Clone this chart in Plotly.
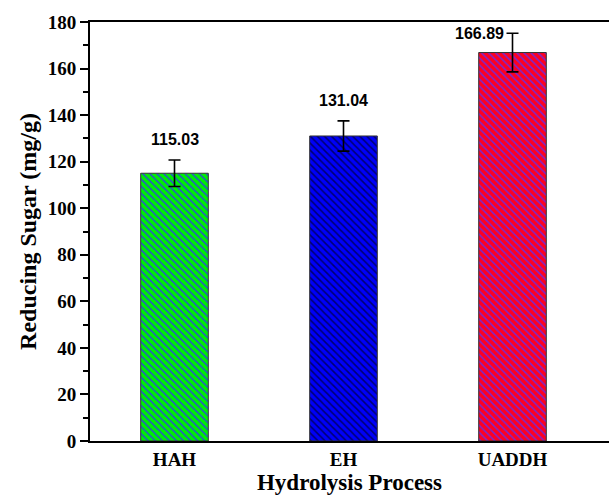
import plotly.graph_objects as go

categories = ["HAH", "EH", "UADDH"]
values = [115.03, 131.04, 166.89]
errors = [5.7, 6.5, 8.3]
labels = ["115.03", "131.04", "166.89"]
bg_colors = ["#00f000", "#0000f8", "#ff0020"]
fg_colors = ["#2a50d0", "#000070", "#7a28d0"]
y_ticks = [0, 20, 40, 60, 80, 100, 120, 140, 160, 180]

xpos = list(range(len(categories)))

fig = go.Figure()
for i in range(len(categories)):
    fig.add_trace(go.Bar(
        x=[xpos[i]], y=[values[i]], width=0.4,
        marker=dict(
            color=bg_colors[i],
            line=dict(color="#333333", width=1),
            pattern=dict(shape="\\", fgcolor=fg_colors[i], bgcolor=bg_colors[i],
                         size=5, solidity=0.3, fillmode="replace"),
        ),
        error_y=dict(type="data", array=[errors[i]], color="black", thickness=1.6, width=6),
        showlegend=False,
    ))

for i, (v, e, t) in enumerate(zip(values, errors, labels)):
    last = i == len(values) - 1
    fig.add_annotation(
        x=xpos[i], y=v + e, text=t, showarrow=False,
        xanchor="right" if last else "center",
        yanchor="middle" if last else "bottom",
        xshift=-7 if last else 0, yshift=0 if last else 10,
        font=dict(family="Liberation Sans, Arial", size=16, color="black", weight="bold"),
    )

fig.update_layout(
    width=609, height=495, barmode="overlay",
    margin=dict(l=90, r=0, t=22, b=54),
    plot_bgcolor="white", paper_bgcolor="white",
    font=dict(family="Liberation Serif, Times New Roman", color="black"),
)
fig.update_xaxes(
    range=[-0.5, 2.571], tickvals=xpos, ticktext=[f"<b>{c}</b>" for c in categories],
    tickfont=dict(size=19), showgrid=False, zeroline=False,
    showline=True, linecolor="black", linewidth=2, mirror=True, ticks="",
    title=dict(text="<b>Hydrolysis Process</b>", font=dict(size=23), standoff=2),
)
fig.update_yaxes(
    range=[0, 180], tickvals=y_ticks, ticktext=[f"<b>{t}</b>" for t in y_ticks],
    tickfont=dict(size=19), showgrid=False, zeroline=False,
    showline=True, linecolor="black", linewidth=2, mirror=False,
    ticks="outside", ticklen=8, tickwidth=2, tickcolor="black",
    minor=dict(ticks="outside", ticklen=5, tickwidth=2, tickcolor="black", dtick=10, tick0=0),
    title=dict(text="<b>Reducing Sugar (mg/g)</b>", font=dict(size=24), standoff=4),
)

fig.write_html("out.html")
